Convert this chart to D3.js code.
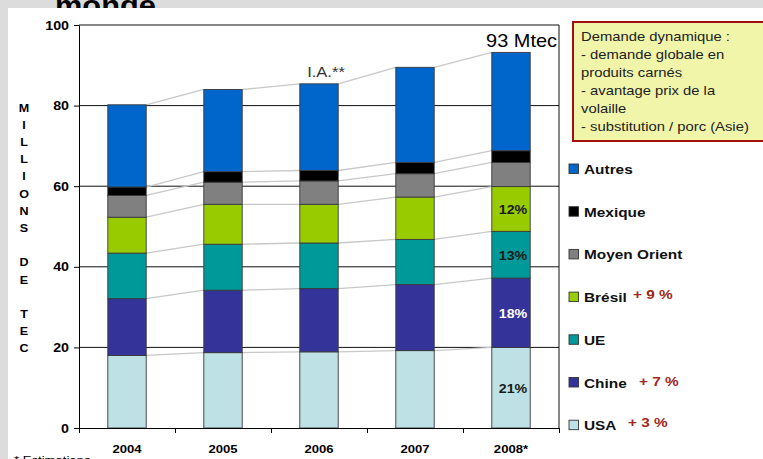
<!DOCTYPE html>
<html>
<head>
<meta charset="utf-8">
<script src="https://cdn.jsdelivr.net/npm/d3@7"></script>
<style>
  html, body { margin: 0; padding: 0; background: #dcdcdc; }
  svg { display: block; font-family: "Liberation Sans", Arial, sans-serif; }
</style>
</head>
<body>
<div id="chart"></div>
<script>
const years = ["2004", "2005", "2006", "2007", "2008*"];
const series = ["USA", "Chine", "UE", "Brésil", "Moyen Orient", "Mexique", "Autres"];
const colors = ["#bde1e4", "#333399", "#009999", "#99cc00", "#808080", "#000000", "#0066cc"];

// millions de tec, par pays et par an
const usa = [18.0, 18.7, 18.9, 19.2, 20.0];
const chine = [14.1, 15.5, 15.7, 16.4, 17.2];
const ue = [11.3, 11.4, 11.3, 11.2, 11.6];
const bresil = [8.9, 9.9, 9.6, 10.5, 11.1];
const moyenOrient = [5.4, 5.5, 5.8, 5.8, 6.0];
const mexique = [2.1, 2.6, 2.6, 2.8, 2.9];
const autres = [20.4, 20.4, 21.5, 23.6, 24.4];

const yTicks = [0, 20, 40, 60, 80, 100];
const shares2008 = { "USA": "21%", "Chine": "18%", "UE": "13%", "Brésil": "12%" };
const growth = { "Brésil": "+ 9 %", "Chine": "+ 7 %", "USA": "+ 3 %" };
const axisTitle = ["M", "I", "L", "L", "I", "O", "N", "S", "", "D", "E", "", "T", "E", "C"];
const noteLines = ["Demande dynamique :", "- demande globale en", "produits carnés",
                   "- avantage prix de la", "volaille", "- substitution / porc (Asie)"];

const values = [usa, chine, ue, bresil, moyenOrient, mexique, autres];
const rows = years.map((yr, i) => {
  const r = { year: yr };
  series.forEach((s, j) => r[s] = values[j][i]);
  return r;
});

const W = 763, H = 459;
const SX = 1.14;   // the slide text is a bit wider than it is tall
const svg = d3.select("#chart").append("svg").attr("width", W).attr("height", H);

// text placed with a horizontal stretch
function label(g, x, y, txt, size, opts = {}) {
  return g.append("text")
    .attr("transform", `translate(${x},${y}) scale(${SX},1)`)
    .attr("text-anchor", opts.anchor || "start")
    .attr("font-size", size)
    .attr("font-weight", opts.bold ? "bold" : "normal")
    .attr("fill", opts.fill || "#000")
    .text(txt);
}

// title behind the white panel
label(svg, 55, 15, "monde", 27, { bold: true });
svg.append("rect").attr("x", 8).attr("y", 8).attr("width", W - 8).attr("height", H - 8).attr("fill", "#fff");

const x = d3.scaleBand(years, [79, 559]).paddingInner(0.6).paddingOuter(0.3);
const y = d3.scaleLinear([0, 100], [428, 25]);
const color = d3.scaleOrdinal(series, colors);

const stack = d3.stack().keys(series)(rows);

// grid
svg.append("g").selectAll("line").data(yTicks.slice(1))
  .join("line")
  .attr("x1", 79).attr("x2", 559)
  .attr("y1", d => y(d)).attr("y2", d => y(d))
  .attr("stroke", "#111").attr("stroke-width", 1);
svg.append("line").attr("x1", 559).attr("x2", 559).attr("y1", y(100)).attr("y2", y(0))
  .attr("stroke", "#111");

// connectors between bars
const links = [];
stack.forEach(layer => {
  for (let i = 0; i < years.length - 1; i++) {
    links.push({ x1: x(years[i]) + x.bandwidth(), y1: y(layer[i][1]),
                 x2: x(years[i + 1]), y2: y(layer[i + 1][1]) });
  }
});
svg.append("g").selectAll("line").data(links)
  .join("line")
  .attr("x1", d => d.x1).attr("y1", d => d.y1)
  .attr("x2", d => d.x2).attr("y2", d => d.y2)
  .attr("stroke", "#c8c8c8").attr("stroke-width", 1.3);

// bars
svg.append("g").selectAll("g").data(stack)
  .join("g")
  .attr("fill", d => color(d.key))
  .selectAll("rect").data(d => d)
  .join("rect")
  .attr("x", d => x(d.data.year))
  .attr("y", d => y(d[1]))
  .attr("width", x.bandwidth())
  .attr("height", d => y(d[0]) - y(d[1]))
  .attr("stroke", "#3a3a3a").attr("stroke-width", 0.9);

// share labels on 2008 bar
const last = years.length - 1;
const shareG = svg.append("g");
stack.filter(l => l.key in shares2008).forEach(l => {
  label(shareG, x(years[last]) + x.bandwidth() / 2 + 2, y((l[last][0] + l[last][1]) / 2) + 5,
        shares2008[l.key], 12.5, { anchor: "middle", bold: true, fill: l.key === "Chine" ? "#fff" : "#1a1a1a" });
});

// axes
const yAxis = svg.append("g").attr("transform", "translate(79,0)")
  .call(d3.axisLeft(y).tickValues(yTicks).tickSize(5).tickSizeOuter(0).tickPadding(6));
yAxis.selectAll("text")
  .attr("x", -10 / SX)
  .attr("transform", `scale(${SX},1)`)
  .attr("font-size", 12.5).attr("font-weight", "bold")
  .attr("fill", "#000").attr("font-family", "Liberation Sans, Arial, sans-serif");
yAxis.selectAll("line, path").attr("stroke", "#000");

const xEdges = d3.scaleLinear([0, years.length], [79, 559]);
const xAxis = svg.append("g").attr("transform", "translate(0,428)")
  .call(d3.axisBottom(xEdges).tickValues(d3.range(years.length + 1)).tickFormat("").tickSize(5).tickSizeOuter(0));
xAxis.selectAll("line, path").attr("stroke", "#000");

const xLab = svg.append("g");
years.forEach(d => label(xLab, x(d) + x.bandwidth() / 2, 453, d, 11.5, { anchor: "middle", bold: true }));

// vertical axis title
const yTitle = svg.append("g");
axisTitle.forEach((d, i) => label(yTitle, 24, 111.5 + i * 17.2, d, 11, { anchor: "middle", bold: true }));

// annotations
label(svg, 326, 77, "I.A.**", 14.5, { anchor: "middle", fill: "#333" });
label(svg, 557, 47, "93 Mtec", 17.5, { anchor: "end" });
label(svg, 14, 464, "* Estimations", 11.5);

// note box
svg.append("rect").attr("x", 573).attr("y", 22).attr("width", 200).attr("height", 119)
  .attr("fill", "#f0f5aa").attr("stroke", "#a01010").attr("stroke-width", 2);
const noteG = svg.append("g");
noteLines.forEach((d, i) => label(noteG, 581, 41 + i * 18, d, 13, { fill: "#222" }));

// legend
const legend = svg.append("g").selectAll("g").data(series.slice().reverse())
  .join("g")
  .attr("transform", (d, i) => `translate(569,${169 + i * 42.7})`);
legend.append("rect").attr("x", 0).attr("y", -5).attr("width", 9.5).attr("height", 9.5)
  .attr("fill", d => color(d)).attr("stroke", "#333").attr("stroke-width", 0.9);
legend.each(function(d) {
  const g = d3.select(this);
  label(g, 15, 5, d, 13.5, { bold: true, fill: "#111" });
  if (d in growth) {
    const gx = d === "Chine" ? 70 : d === "USA" ? 59 : 64;
    label(g, gx, d === "Chine" ? 3 : 2, growth[d], 13.5, { bold: true, fill: "#a0281e" });
  }
});
</script>
</body>
</html>
